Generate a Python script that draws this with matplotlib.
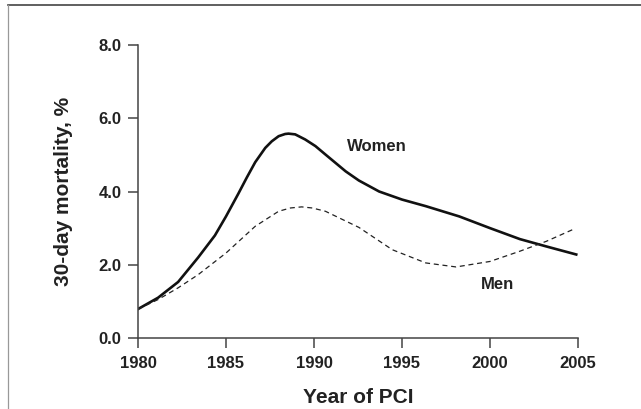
import numpy as np
import matplotlib
matplotlib.use("Agg")
import matplotlib.pyplot as plt
from matplotlib.lines import Line2D

plt.rcParams['font.family'] = ['Liberation Sans', 'DejaVu Sans']

# values
women_year = [1980, 1981.14, 1982.28, 1983.42, 1984.37, 1985, 1985.7, 1986.18, 1986.66,
              1987.23, 1987.6, 1987.99, 1988.36, 1988.55, 1988.93, 1989.5, 1990.08,
              1990.65, 1991.8, 1992.55, 1993.7, 1995, 1996.35, 1998.25, 2000,
              2001.7, 2003.2, 2004.9]
women_val = [0.79, 1.10, 1.53, 2.20, 2.80, 3.32, 3.94, 4.38, 4.80,
             5.19, 5.37, 5.51, 5.57, 5.58, 5.56, 5.42, 5.24,
             5.01, 4.55, 4.30, 4.00, 3.78, 3.60, 3.32, 3.00,
             2.70, 2.50, 2.28]

men_year = [1980, 1981.14, 1982.28, 1983.42, 1985, 1986.66, 1987.99, 1988.66, 1989.3,
            1989.9, 1990.65, 1992.55, 1994.45, 1996.35, 1998.07, 2000, 2001.7,
            2003.2, 2004.7]
men_val = [0.79, 1.05, 1.37, 1.73, 2.32, 3.05, 3.46, 3.55, 3.58,
           3.55, 3.46, 3.02, 2.41, 2.05, 1.94, 2.09, 2.37,
           2.64, 2.96]

x_ticks = [1980, 1985, 1990, 1995, 2000, 2005]
y_ticks = [0, 2, 4, 6, 8]

txt = '#222222'
ax_col = '#444444'

fig = plt.figure(figsize=(6.41, 4.09), dpi=100)
ax = fig.add_axes([138/641, 1 - 338/409, 440/641, 293/409])

ax.plot(women_year, women_val, color='#111111', lw=1.9, solid_joinstyle='round')
ax.plot(men_year, men_val, color='#222222', lw=0.9, linestyle=(0, (4, 3)))

ax.text(1993.58, 5.24, 'Women', ha='center', va='center', fontsize=12,
        fontweight='bold', color=txt)
ax.text(2000.45, 1.46, 'Men', ha='center', va='center', fontsize=12,
        fontweight='bold', color=txt)

ax.set_xlim(1980, 2005)
ax.set_ylim(0, 8)
ax.set_xticks(x_ticks)
ax.set_yticks(y_ticks)
ax.set_yticklabels([f'{v:.1f}' for v in y_ticks])
ax.tick_params(direction='out', length=7, width=1.1, color=ax_col,
               labelsize=12, labelcolor=txt, pad=6)
ax.tick_params(axis='y', pad=5)
for lab in ax.get_xticklabels() + ax.get_yticklabels():
    lab.set_fontweight('bold')

for s in ['top', 'right']:
    ax.spines[s].set_visible(False)
for s in ['left', 'bottom']:
    ax.spines[s].set_color(ax_col)
    ax.spines[s].set_linewidth(1.1)

ax.set_xlabel('Year of PCI', fontsize=15, fontweight='bold', color=txt, labelpad=12)
ax.set_ylabel('30-day mortality, %', fontsize=15, fontweight='bold', color=txt, labelpad=18)

# frame lines of the original figure panel
fig.add_artist(Line2D([8/641, 1], [1 - 5/409, 1 - 5/409], color='#444444', lw=1.2))
fig.add_artist(Line2D([8/641, 8/641], [0, 1 - 5/409], color='#999999', lw=0.9))

fig.savefig('out.png', dpi=100)
